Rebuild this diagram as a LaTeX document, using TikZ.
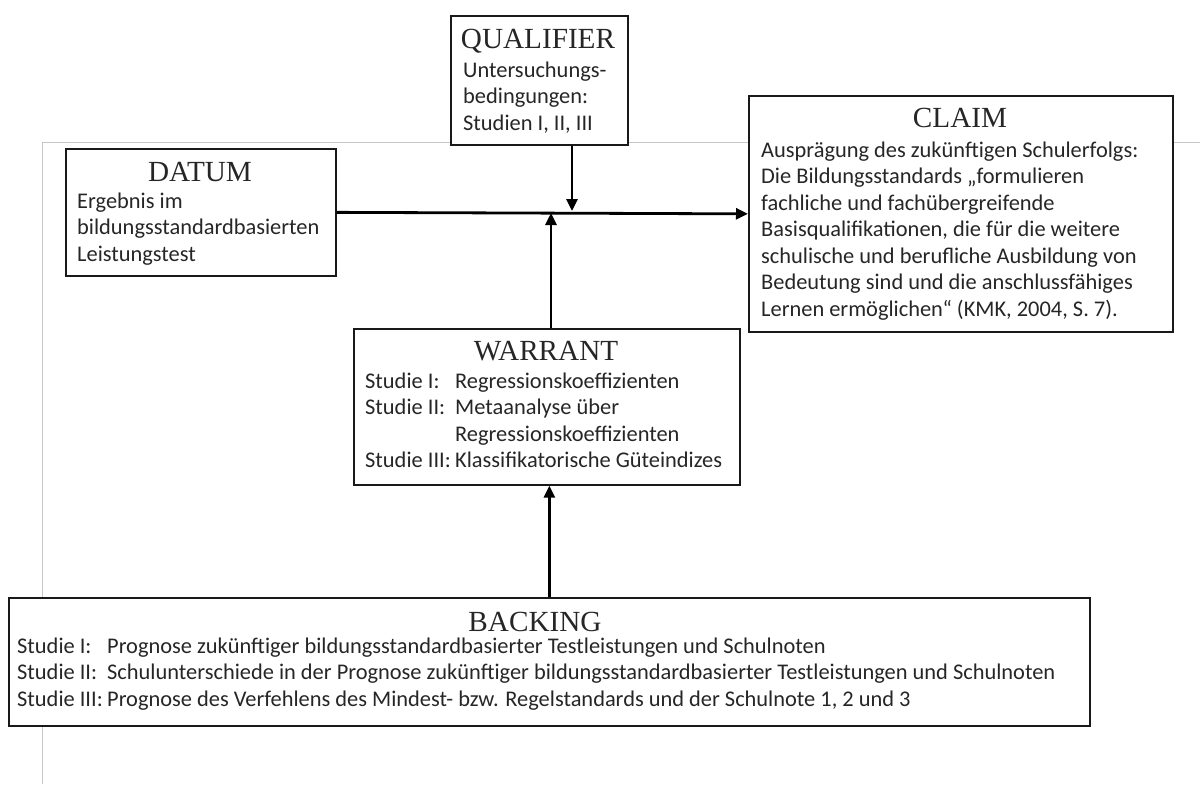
\documentclass[tikz,border=0pt]{standalone}
\usepackage{fontspec}
\setmainfont{Carlito}
\newfontfamily\titlefont{Liberation Serif}
\usetikzlibrary{arrows.meta}

% body text and heading sizes
\newcommand{\bodysize}{\fontsize{22.4}{26.5}\selectfont}
\newcommand{\headsize}{\titlefont\fontsize{29.2}{31}\selectfont}
\newcommand{\colA}[1]{\makebox[90pt][l]{#1}}

\begin{document}
\begin{tikzpicture}[x=1pt,y=-1pt,
  box/.style={draw=black!90, line width=1.7pt, rectangle, inner sep=0pt, anchor=north west, fill=white},
  head/.style={anchor=base, inner sep=0pt, font=\headsize, text=black!85},
  body/.style={anchor=base west, inner sep=0pt, font=\bodysize, text=black!85},
  arr/.style={line width=2.8pt, draw=black, -{Triangle[length=12pt,width=11pt]}},
  frame/.style={draw=black!22, line width=0.9pt}
]
\useasboundingbox (0,0) rectangle (1200,785);

% page frame lines behind the diagram
\coordinate (fc) at (42,142);
\draw[frame] (1200,142) -- (fc) -- (42,784);

% boxes
\node[box, minimum width=177pt, minimum height=129pt] (qual)  at (450,15)  {};
\node[box, minimum width=270pt, minimum height=127pt] (datum) at (65,148)  {};
\node[box, minimum width=424pt, minimum height=236pt] (claim) at (748,95)  {};
\node[box, minimum width=386pt, minimum height=156pt] (warr)  at (353,328) {};
\node[box, minimum width=1081pt, minimum height=128pt] (back) at (8,597)   {};

% QUALIFIER
\node[head] (qualT) at (538,48) {QUALIFIER};
\node[body] (qualB) at (463,77) {\begin{tabular}[t]{@{}l@{}}Untersuchungs-\\bedingungen:\\Studien I, II, III\end{tabular}};

% DATUM
\node[head] (datumT) at (200,181) {DATUM};
\node[body] (datumB) at (77,208) {\begin{tabular}[t]{@{}l@{}}Ergebnis im\\bildungsstandardbasierten\\Leistungstest\end{tabular}};

% CLAIM
\node[head] (claimT) at (960,127) {CLAIM};
\node[body] (claimB) at (761,157) {\begin{tabular}[t]{@{}l@{}}Ausprägung des zukünftigen Schulerfolgs:\\
Die Bildungsstandards „formulieren\\
fachliche und fachübergreifende\\
Basisqualifikationen, die für die weitere\\
schulische und berufliche Ausbildung von\\
Bedeutung sind und die anschlussfähiges\\
Lernen ermöglichen“ (KMK, 2004, S. 7).\end{tabular}};

% WARRANT
\node[head] (warrT) at (546,360) {WARRANT};
\node[body] (warrB) at (365,388) {\begin{tabular}[t]{@{}l@{}}\colA{Studie I:}Regressionskoeffizienten\\
\colA{Studie II:}Metaanalyse über\\
\colA{}Regressionskoeffizienten\\
\colA{Studie III:}Klassifikatorische Güteindizes\end{tabular}};

% BACKING
\node[head] (backT) at (535,631) {BACKING};
\node[body] (backB) at (17,653) {\begin{tabular}[t]{@{}l@{}}\colA{Studie I:}Prognose zukünftiger bildungsstandardbasierter Testleistungen und Schulnoten\\
\colA{Studie II:}Schulunterschiede in der Prognose zukünftiger bildungsstandardbasierter Testleistungen und Schulnoten\\
\colA{Studie III:}Prognose des Verfehlens des Mindest- bzw. Regelstandards und der Schulnote 1, 2 und 3\end{tabular}};

% connectors
\coordinate (qend) at (572,211);
\coordinate (wend) at (551,213);
\draw[arr] (datum.east) -- (claim.west);
\draw[arr] (qual.south -| qend) -- (qend);
\draw[arr] (warr.north -| wend) -- (wend);
\draw[arr] (back.north) -- (warr.south -| back.north);
\end{tikzpicture}
\end{document}
